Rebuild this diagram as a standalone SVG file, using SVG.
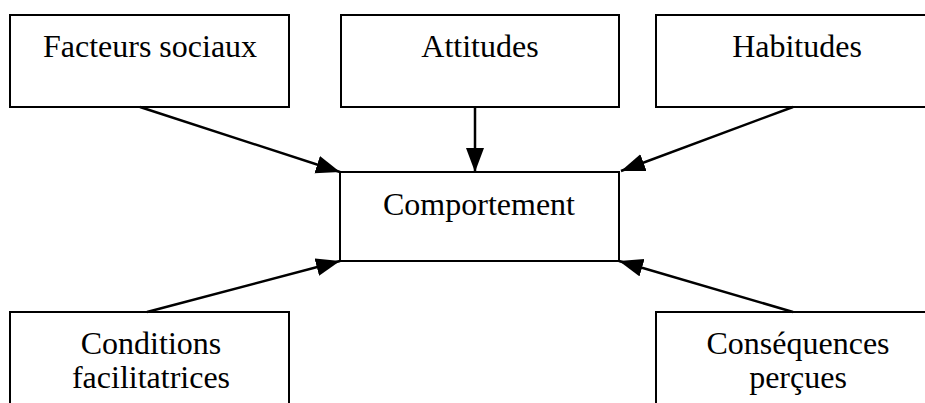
<svg xmlns="http://www.w3.org/2000/svg" width="925" height="403" viewBox="0 0 925 403">
<style>
.box{fill:#fff;stroke:#000;stroke-width:2}
.lbl{font-family:"Liberation Serif","Times New Roman",serif;font-size:32px;fill:#000;text-anchor:middle}
.edge{stroke:#000;stroke-width:2.5;fill:none;marker-end:url(#ah)}
</style>
<defs>
<marker id="ah" markerUnits="userSpaceOnUse" markerWidth="26" markerHeight="20" refX="24" refY="9" orient="auto">
<path d="M0,0 L24,9 L0,18 z" fill="#000"/>
</marker>
</defs>
<rect width="925" height="403" fill="#fff"/>
<g id="facteurs"><rect class="box" x="10" y="15" width="279" height="92"/><text class="lbl" x="150" y="57">Facteurs sociaux</text></g>
<g id="attitudes"><rect class="box" x="341" y="15" width="278" height="92"/><text class="lbl" x="480" y="57">Attitudes</text></g>
<g id="habitudes"><rect class="box" x="656" y="15" width="280" height="92"/><text class="lbl" x="797" y="57">Habitudes</text></g>
<g id="comportement"><rect class="box" x="340" y="172" width="279" height="89"/><text class="lbl" x="479" y="215">Comportement</text></g>
<g id="conditions"><rect class="box" x="10" y="312" width="279" height="110"/><text class="lbl" x="151" y="354">Conditions</text><text class="lbl" x="151" y="388">facilitatrices</text></g>
<g id="consequences"><rect class="box" x="656" y="312" width="280" height="110"/><text class="lbl" x="798" y="354">Conséquences</text><text class="lbl" x="798" y="388">perçues</text></g>
<g id="connectors">
<line class="edge" x1="140" y1="107" x2="340" y2="172"/>
<line class="edge" x1="475" y1="107" x2="475" y2="172"/>
<line class="edge" x1="793" y1="107" x2="621" y2="171"/>
<line class="edge" x1="147" y1="312" x2="340" y2="261"/>
<line class="edge" x1="793" y1="312" x2="619" y2="261"/>
</g>
</svg>
